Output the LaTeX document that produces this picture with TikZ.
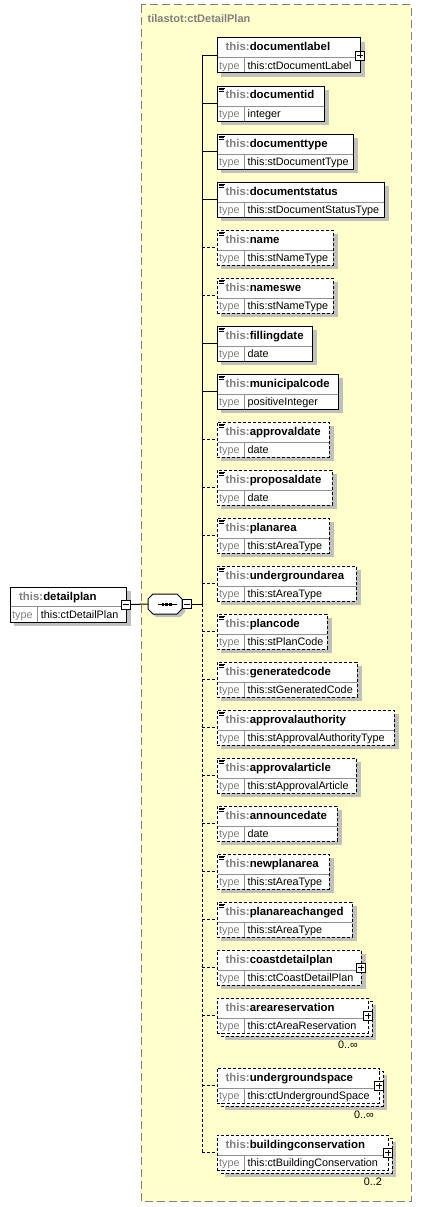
\documentclass[tikz,border=0pt]{standalone}
\usepackage{fontspec}
\setmainfont{Liberation Sans}
\usetikzlibrary{fit}
\definecolor{cyel}{HTML}{FFFFCC}
\definecolor{cshadow}{HTML}{C0C0C0}
\definecolor{cgray}{HTML}{808080}
\definecolor{cdiv}{HTML}{909090}
\tikzset{
  reqbox/.style={draw=black, line width=1pt, fill=white, inner sep=0pt, outer sep=0pt},
  optbox/.style={reqbox, dash pattern=on 3pt off 2pt},
  reqline/.style={draw=black, line width=1pt},
  optline/.style={reqline, dash pattern=on 3pt off 2pt},
  divline/.style={draw=cdiv, line width=1pt},
  iconline/.style={draw=black, line width=0.7pt},
  nametext/.style={font=\fontsize{11.4}{13}\selectfont\bfseries, anchor=base west, inner sep=0pt},
  typelbl/.style={font=\fontsize{10.8}{13}\selectfont, text=cgray, anchor=base west, inner sep=0pt},
  typetext/.style={font=\fontsize{10.8}{13}\selectfont, anchor=base west, inner sep=0pt},
  multlbl/.style={font=\fontsize{10.8}{13}\selectfont, anchor=base east, inner sep=0pt},
  pmbox/.style={draw=black, fill=white, line width=0.8pt, minimum size=9pt, inner sep=0pt, outer sep=0pt},
  container/.style={draw=cgray, fill=cyel, line width=1pt, dash pattern=on 8pt off 4pt},
  cttitle/.style={font=\fontsize{11}{13}\selectfont\bfseries, text=cgray, anchor=base west, inner sep=0pt},
  seqsym/.style={inner sep=0pt, outer sep=0pt, minimum width=34pt, minimum height=20pt},
}
\newcommand\elemrows[5]{%
  \draw[divline] (217.5,#4+20) -- (#5-0.5,#4+20);
  \draw[divline] (244,#4+20) -- (244,#4+34.5);
  \node[nametext] (#1-n) at (225.5,#4+13) {\textcolor{cgray}{this:}#2};
  \node[typelbl] (#1-k) at (219,#4+31.6) {type};
  \node[typetext] (#1-t) at (247.5,#4+31.6) {#3};
}
\newcommand\plusmark[2]{%
  \node[pmbox] (#1) at #2 {};
  \draw[line width=0.8pt] ([xshift=-3pt]#1.center) -- ([xshift=3pt]#1.center)
    ([yshift=-3pt]#1.center) -- ([yshift=3pt]#1.center);
}
\newcommand\minusmark[2]{%
  \node[pmbox] (#1) at #2 {};
  \draw[line width=0.8pt] ([xshift=-3pt]#1.center) -- ([xshift=3pt]#1.center);
}
% simple-typed element: id, name, type, top, right, req/opt
\newcommand\selem[6]{%
  \fill[cshadow] (221,#4+4) rectangle (#5+5,#4+39);
  \node[#6box, fit={(217,#4)(#5,#4+35)}] (#1) {};
  \elemrows{#1}{#2}{#3}{#4}{#5}
  \draw[iconline] (219,#4+2) -- +(6,0) (219,#4+3.7) -- +(5,0) (219,#4+5.4) -- +(5,0);
  \draw[#6line] (#1.west -| spine) -- (#1.west);
}
% complex-typed element
\newcommand\celem[6]{%
  \fill[cshadow] (221,#4+4) rectangle (#5+5,#4+39);
  \node[#6box, fit={(217,#4)(#5,#4+35)}] (#1) {};
  \elemrows{#1}{#2}{#3}{#4}{#5}
  \plusmark{#1-p}{(#1.east)}
  \draw[#6line] (#1.west -| spine) -- (#1.west);
}
% repeated complex element: id, name, type, top, right, label, label right x
\newcommand\melem[7]{%
  \fill[cshadow] (225,#4+7) rectangle (#5+8,#4+42);
  \draw[optbox] (221,#4+3) rectangle (#5+4,#4+38);
  \node[optbox, fit={(217,#4)(#5,#4+35)}] (#1) {};
  \elemrows{#1}{#2}{#3}{#4}{#5}
  \plusmark{#1-p}{(#1.east)}
  \draw[optline] (#1.west -| spine) -- (#1.west);
  \node[multlbl] (#1-m) at (#7,#4+50) {#6};
}
\begin{document}
\begin{tikzpicture}[x=1pt,y=-1pt]
\useasboundingbox (0,0) rectangle (422,1207);
\fill[white] (0,0) rectangle (422,1207);
\draw[container] (141,5) rectangle (411,1201.5);
\node[cttitle] (ct) at (147.5,22.7) {tilastot:ctDetailPlan};
\coordinate (spine) at (202,604);

% root element
\fill[cshadow] (14,591) rectangle (131,626);
\node[reqbox, fit={(10,587)(126,622)}] (root) {};
\draw[divline] (10.5,606) -- (125.5,606);
\draw[divline] (37.5,606) -- (37.5,621.5);
\node[nametext] (root-n) at (19,600) {\textcolor{cgray}{this:}detailplan};
\node[typelbl] (root-k) at (12,618.4) {type};
\node[typetext] (root-t) at (40.7,618.4) {this:ctDetailPlan};
\minusmark{root-m}{(root.east)}

% sequence compositor
\node[seqsym] (seq) at (165,604) {};
\fill[cshadow] (151,602) -- (156,597) -- (180,597) -- (185,602) -- (185,612)
  -- (180,617) -- (156,617) -- (151,612) -- cycle;
\draw[line width=1pt, fill=white] (148,599) -- (153,594) -- (177,594) -- (182,599) -- (182,609)
  -- (177,614) -- (153,614) -- (148,609) -- cycle;
\draw[line width=1pt] (157.5,604) -- (176.5,604);
\fill (161.8,602.5) rectangle +(2.6,3);
\fill (165.4,602.5) rectangle +(2.6,3);
\fill (169.0,602.5) rectangle +(2.6,3);
\minusmark{seq-m}{(187,604)}
\draw[reqline] (root-m.east) -- (seq.west);
\draw[reqline] (seq-m.east) -- (spine);

% children
\celem{e1}{documentlabel}{this:ctDocumentLabel}{38}{360}{req}
\selem{e2}{documentid}{integer}{86}{324}{req}
\selem{e3}{documenttype}{this:stDocumentType}{134}{353}{req}
\selem{e4}{documentstatus}{this:stDocumentStatusType}{182}{384}{req}
\selem{e5}{name}{this:stNameType}{230}{333}{opt}
\selem{e6}{nameswe}{this:stNameType}{278}{333}{opt}
\selem{e7}{fillingdate}{date}{326}{312}{req}
\selem{e8}{municipalcode}{positiveInteger}{374}{338}{req}
\selem{e9}{approvaldate}{date}{422}{329}{opt}
\selem{e10}{proposaldate}{date}{470}{332}{opt}
\selem{e11}{planarea}{this:stAreaType}{518}{329}{opt}
\selem{e12}{undergroundarea}{this:stAreaType}{566}{356}{opt}
\selem{e13}{plancode}{this:stPlanCode}{614}{327}{opt}
\selem{e14}{generatedcode}{this:stGeneratedCode}{662}{357}{opt}
\selem{e15}{approvalauthority}{this:stApprovalAuthorityType}{710}{394}{opt}
\selem{e16}{approvalarticle}{this:stApprovalArticle}{758}{356}{opt}
\selem{e17}{announcedate}{date}{806}{337}{opt}
\selem{e18}{newplanarea}{this:stAreaType}{854}{329}{opt}
\selem{e19}{planareachanged}{this:stAreaType}{902}{352}{opt}
\celem{e20}{coastdetailplan}{this:ctCoastDetailPlan}{950}{361}{opt}
\melem{e21}{areareservation}{this:ctAreaReservation}{998}{368}{0..∞}{358}
\melem{e22}{undergroundspace}{this:ctUndergroundSpace}{1068}{379}{0..∞}{374}
\melem{e23}{buildingconservation}{this:ctBuildingConservation}{1135}{388}{0..2}{382}

% spine
\draw[reqline] (spine) -- (e1.west -| spine);
\draw[optline] (spine) -- (e23.west -| spine);
\end{tikzpicture}
\end{document}
